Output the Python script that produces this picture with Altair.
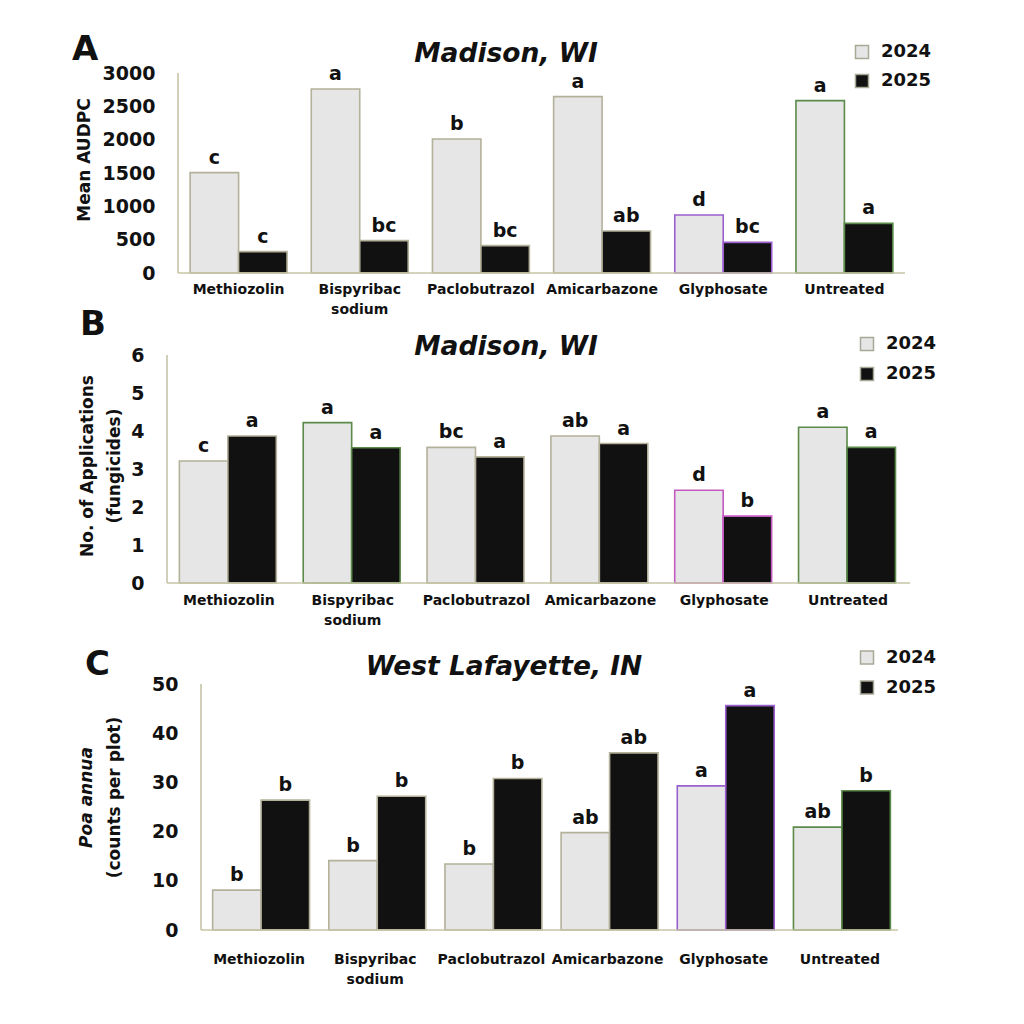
import altair as alt
import pandas as pd

# ---- data -------------------------------------------------------------
treatments = ["Methiozolin", "Bispyribac sodium", "Paclobutrazol",
              "Amicarbazone", "Glyphosate", "Untreated"]
years = ["2024", "2025"]

# A: mean AUDPC, Madison, WI
audpc_2024 = [1505, 2760, 2010, 2645, 870, 2585]
audpc_2025 = [320, 485, 410, 630, 460, 745]
audpc_letters_2024 = ["c", "a", "b", "a", "d", "a"]
audpc_letters_2025 = ["c", "bc", "bc", "ab", "bc", "a"]
audpc_ticks = [0, 500, 1000, 1500, 2000, 2500, 3000]

# B: number of fungicide applications, Madison, WI
apps_2024 = [3.21, 4.22, 3.57, 3.87, 2.44, 4.10]
apps_2025 = [3.87, 3.56, 3.32, 3.67, 1.76, 3.57]
apps_letters_2024 = ["c", "a", "bc", "ab", "d", "a"]
apps_letters_2025 = ["a", "a", "a", "a", "b", "a"]
apps_ticks = [0, 1, 2, 3, 4, 5, 6]

# C: Poa annua counts per plot, West Lafayette, IN
poa_2024 = [8.1, 14.1, 13.4, 19.8, 29.3, 20.9]
poa_2025 = [26.4, 27.2, 30.8, 36.0, 45.6, 28.3]
poa_letters_2024 = ["b", "b", "b", "ab", "a", "ab"]
poa_letters_2025 = ["b", "b", "b", "ab", "a", "b"]
poa_ticks = [0, 10, 20, 30, 40, 50]

# ---- styling ----------------------------------------------------------
FONT = "DejaVu Sans"
INK = "#111111"
AXIS_LINE = "#c6c4a6"
FILLS = ["#e6e6e6", "#111111"]
OLIVE, GREEN, PURPLE, MAGENTA = "#b3b19a", "#5b8a49", "#9a5fcf", "#c35ac2"
PLOT_W = 743


def long_table(v24, v25, l24, l25):
    rows = []
    for t, a, b, la, lb in zip(treatments, v24, v25, l24, l25):
        rows.append(dict(treatment=t, year="2024", value=a, letter=la))
        rows.append(dict(treatment=t, year="2025", value=b, letter=lb))
    return pd.DataFrame(rows)


def note(text, x, y, size, italic=False, **kw):
    style = dict(font=FONT, fontSize=size, fontWeight="bold", color=INK)
    if italic:
        style["fontStyle"] = "italic"
    style.update(kw)
    return alt.Chart(pd.DataFrame({"t": [text]})).mark_text(**style).encode(
        text="t:N", x=alt.value(x), y=alt.value(y)
    )


def panel(df, *, height, y_top, ticks, x_range, strokes, label_pad,
          legend_xy, row_pad, extras):
    xs, xe = x_range
    xsc = alt.Scale(domain=treatments, range=[xs, xe],
                    paddingInner=0.2, paddingOuter=0.1)
    ysc = alt.Scale(domain=[0, y_top], nice=False, zero=True)
    one = pd.DataFrame({"k": [0]})

    x_axis = alt.Axis(title=None, domain=False, ticks=False, grid=False,
                      labelAngle=0, labelFont=FONT, labelFontSize=14,
                      labelFontWeight="bold", labelColor=INK,
                      labelPadding=label_pad, labelLimit=300,
                      labelOverlap=False, labelLineHeight=20,
                      labelExpr="split(datum.label, ' ')")
    y_axis = alt.Axis(title=None, values=ticks, format="d", domain=False,
                      ticks=False, grid=False, labelFont=FONT,
                      labelFontSize=19, labelFontWeight="bold",
                      labelColor=INK, labelPadding=23, offset=-xs)

    x_enc = alt.X("treatment:N", scale=xsc, sort=treatments, axis=x_axis)
    y_enc = alt.Y("value:Q", scale=ysc, axis=y_axis)
    off_enc = alt.XOffset("year:N", sort=years)

    base = alt.Chart(df)
    bars = base.mark_bar(strokeWidth=1.6).encode(
        x=x_enc, xOffset=off_enc, y=y_enc,
        fill=alt.Fill("year:N", scale=alt.Scale(domain=years, range=FILLS),
                      legend=alt.Legend(
                          title=None, orient="none",
                          legendX=legend_xy[0], legendY=legend_xy[1],
                          symbolType="square", symbolSize=169,
                          symbolStrokeColor="#a9a896", symbolStrokeWidth=1.5,
                          labelFont=FONT, labelFontSize=18,
                          labelFontWeight="bold", labelColor=INK,
                          labelOffset=10, rowPadding=row_pad, padding=0)),
        stroke=alt.Stroke("treatment:N",
                          scale=alt.Scale(domain=treatments, range=strokes),
                          legend=None),
    )
    letters = base.mark_text(font=FONT, fontSize=19, fontWeight="bold",
                             color=INK, baseline="alphabetic", dy=-9).encode(
        x=x_enc, xOffset=off_enc, y=y_enc, text="letter:N",
    )
    y_line = alt.Chart(one).mark_rule(color=AXIS_LINE, strokeWidth=1.6).encode(
        x=alt.value(xs),
        y=alt.YDatum(0, scale=ysc, axis=y_axis),
        y2=alt.Y2Datum(ticks[-1]),
    )
    x_line = alt.Chart(one).mark_rule(color=AXIS_LINE, strokeWidth=1.6).encode(
        x=alt.value(xs), x2=alt.value(xe),
        y=alt.YDatum(0, scale=ysc, axis=y_axis),
    )
    return alt.layer(bars, letters, y_line, x_line, *extras).properties(
        width=PLOT_W, height=height
    )


# ---- panels -----------------------------------------------------------
panel_a = panel(
    long_table(audpc_2024, audpc_2025, audpc_letters_2024, audpc_letters_2025),
    height=200, y_top=3000, ticks=audpc_ticks, x_range=(11, 738),
    strokes=[OLIVE, OLIVE, OLIVE, OLIVE, PURPLE, GREEN],
    label_pad=9, legend_xy=(686, -30), row_pad=9,
    extras=[
        note("A", -95, -40, 34, align="left", baseline="top"),
        note("Madison, WI", 339, -10.7, 26.5, italic=True, align="center",
             baseline="alphabetic"),
        note("Mean AUDPC", -82, 87, 17, angle=270, align="center",
             baseline="middle"),
    ],
)

panel_b = panel(
    long_table(apps_2024, apps_2025, apps_letters_2024, apps_letters_2025),
    height=228, y_top=6, ticks=apps_ticks, x_range=(0, 743),
    strokes=[OLIVE, GREEN, OLIVE, OLIVE, MAGENTA, GREEN],
    label_pad=10, legend_xy=(691, -20), row_pad=10,
    extras=[
        note("B", -87, -47, 34, align="left", baseline="top"),
        note("Madison, WI", 339, 0, 26.5, italic=True, align="center",
             baseline="alphabetic"),
        note("No. of Applications\n(fungicides)", -79, 111, 17, angle=270,
             align="center", baseline="middle", lineBreak="\n",
             lineHeight=27),
    ],
)

# plot area of C starts 19 px above the 50 gridline so the panel gap matches
poa_px_per_unit = 246 / 50
panel_c = panel(
    long_table(poa_2024, poa_2025, poa_letters_2024, poa_letters_2025),
    height=265, y_top=50 + 19 / poa_px_per_unit, ticks=poa_ticks,
    x_range=(34, 731),
    strokes=[OLIVE, OLIVE, OLIVE, OLIVE, PURPLE, GREEN],
    label_pad=22, legend_xy=(691, -16.5), row_pad=10,
    extras=[
        note("C", -82, -17, 34, align="left", baseline="top"),
        note("West Lafayette, IN", 337, 10, 26.5, italic=True, align="center",
             baseline="alphabetic"),
        note("Poa annua", -80, 132.5, 17, italic=True, angle=270,
             align="center", baseline="middle"),
        note("(counts per plot)", -52, 132.5, 17, angle=270,
             align="center", baseline="middle"),
    ],
)

chart = (
    alt.vconcat(panel_a, panel_b, panel_c, spacing=82, bounds="flush")
    .resolve_scale(fill="independent", stroke="independent")
    .resolve_legend(fill="independent")
    .properties(padding={"left": 72, "top": 33, "right": 10, "bottom": 10},
                background="white")
    .configure_view(stroke=None)
)

chart.save("out.html", embed_options={"renderer": "svg", "actions": False})
